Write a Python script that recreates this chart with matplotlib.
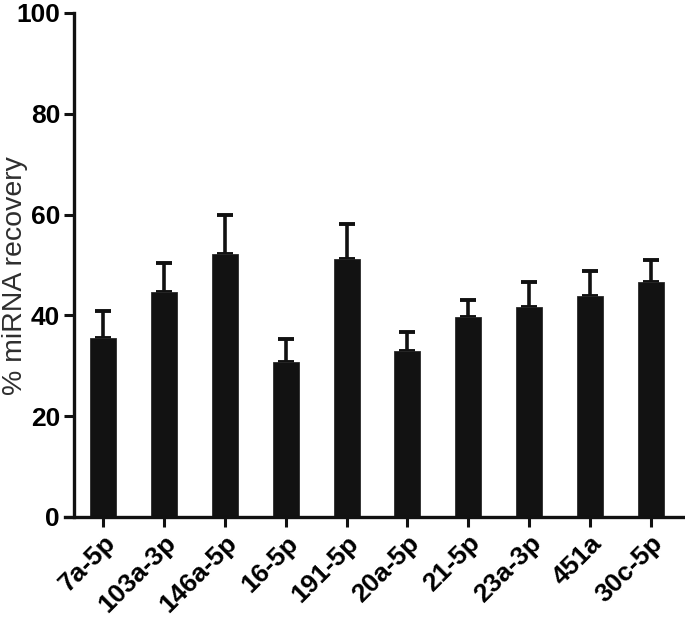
import numpy as np
from matplotlib import pyplot as plt

# miRNA recovery data
labels = ['7a-5p', '103a-3p', '146a-5p', '16-5p', '191-5p',
          '20a-5p', '21-5p', '23a-3p', '451a', '30c-5p']
recovery = [35.6, 44.6, 52.1, 30.8, 51.1, 32.9, 39.6, 41.7, 43.9, 46.7]
err_top = [40.8, 50.3, 59.9, 35.3, 58.1, 36.8, 43.0, 46.6, 48.9, 51.0]

errs = [t - v for t, v in zip(err_top, recovery)]
x = np.arange(len(labels))

plt.rcParams['font.family'] = ['Liberation Sans', 'DejaVu Sans']
fig = plt.figure(figsize=(6.85, 6.17), dpi=100)
ax = fig.add_axes([74 / 685, 1 - 517 / 617, (683 - 74) / 685, (517 - 13) / 617])

ax.bar(x, recovery, width=0.43, color='#121212', edgecolor='#2a2a2a', linewidth=0.6, zorder=2)
ax.errorbar(x, recovery, yerr=[np.zeros(len(errs)), errs], fmt='none',
            ecolor='#111111', elinewidth=2.6, capsize=6, capthick=2.8, zorder=1)

ax.set_xlim(-0.482, 9.531)
ax.set_ylim(0, 100)
ax.set_yticks([0, 20, 40, 60, 80, 100])
ax.set_xticks(x)
ax.set_xticklabels(labels, rotation=45, ha='right', rotation_mode='anchor')

for s in ['top', 'right']:
    ax.spines[s].set_visible(False)
for s in ['left', 'bottom']:
    ax.spines[s].set_linewidth(2.4)
    ax.spines[s].set_color('#111111')
ax.spines['bottom'].set_bounds(-0.63, 9.531)
ax.spines['left'].set_bounds(0, 100)

ax.tick_params(axis='both', width=2.2, length=7, color='#111111', labelsize=19, pad=3)
for lab in ax.get_xticklabels() + ax.get_yticklabels():
    lab.set_fontweight('bold')
ax.set_ylabel('% miRNA recovery', fontsize=20.5, color='#2e2e2e')
ax.yaxis.set_label_coords(-46 / 609, 0.48)

fig.savefig('out.png', dpi=100)
